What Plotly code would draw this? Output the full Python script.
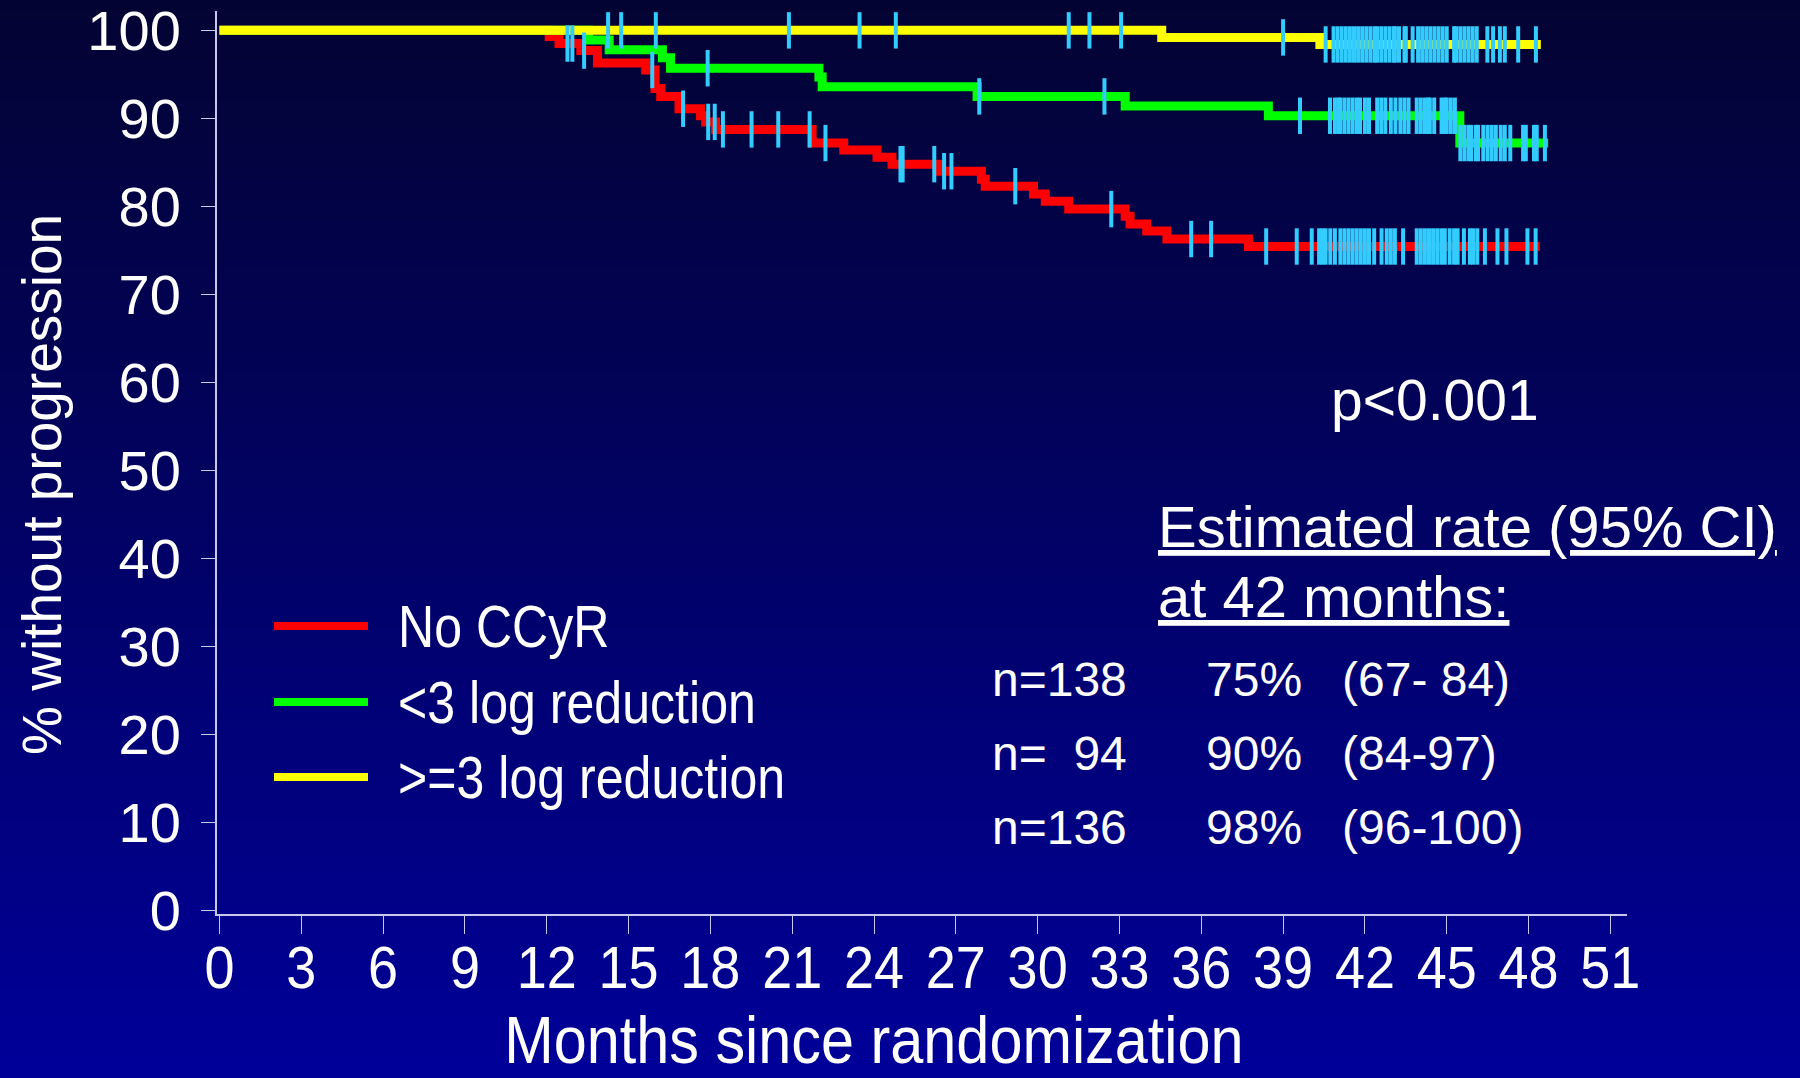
import plotly.graph_objects as go

# ---------------- data ----------------
red_times = [0, 12.09, 12.45, 13.25, 13.86, 15.63, 15.97, 16.18, 16.85, 17.64, 17.83, 18.19,
             21.73, 22.89, 24.11, 24.66, 26.37, 27.94, 28.08, 29.85, 30.28, 31.14, 33.21,
             33.39, 34.0, 34.74, 37.73]
red_surv = [100, 99.3, 98.5, 97.7, 96.3, 95.5, 93.4, 92.5, 91.1, 90.3, 89.6, 88.75,
            87.2, 86.4, 85.6, 84.8, 84.0, 83.1, 82.3, 81.4, 80.6, 79.7, 78.9,
            78.0, 77.2, 76.3, 75.45]
red_end = 48.41
red_censor = [12.76, 12.94, 13.37, 15.87, 17.0, 17.92, 18.16, 18.46, 19.51, 20.49, 21.64, 22.22,
              24.97, 25.05, 26.21, 26.57, 26.84, 29.18, 32.7, 35.63, 36.36, 38.38, 39.5, 40.05,
              40.32, 40.44, 40.56, 40.73, 40.9, 41.1, 41.25, 41.4, 41.55, 41.7, 41.85, 42.0,
              42.15, 42.34, 42.61, 42.8, 42.95, 43.1, 43.4, 43.9, 44.05, 44.2, 44.35, 44.5,
              44.65, 44.8, 44.93, 45.11, 45.27, 45.4, 45.63, 45.85, 45.97, 46.12, 46.4, 46.86,
              47.19, 47.96, 48.26]

green_times = [0, 13.53, 14.29, 16.24, 16.54, 21.98, 22.1, 27.78, 33.21, 38.46, 45.48]
green_surv = [100, 98.9, 97.8, 96.9, 95.7, 94.7, 93.6, 92.5, 91.4, 90.3, 87.2]
green_end = 48.72
green_censor = [17.9, 27.86, 32.45, 39.62, 40.72, 40.9, 41.03, 41.1, 41.25, 41.4, 41.55, 41.7,
                41.82, 42.0, 42.15, 42.45, 42.6, 42.75, 42.95, 43.12, 43.3, 43.45, 43.6, 43.9,
                44.05, 44.2, 44.32, 44.38, 44.54, 44.81, 44.93, 45.0, 45.15, 45.3, 45.5, 45.65,
                45.8, 45.9, 46.07, 46.15, 46.34, 46.5, 46.65, 46.8, 46.98, 47.13, 47.33, 47.8,
                47.9, 48.2, 48.3, 48.6]

yellow_times = [0, 34.55, 40.35]
yellow_surv = [100, 99.2, 98.4]
yellow_end = 48.45
yellow_censor = [14.25, 14.73, 16.0, 20.88, 23.47, 24.8, 31.14, 31.9, 33.06, 39.0, 40.56, 40.85,
                 41.0, 41.15, 41.3, 41.45, 41.6, 41.75, 41.9, 42.05, 42.2, 42.35, 42.45, 42.6,
                 42.75, 42.9, 43.05, 43.1, 43.25, 43.45, 43.5, 43.75, 43.95, 44.1, 44.25, 44.4,
                 44.55, 44.7, 44.85, 45.0, 45.27, 45.35, 45.5, 45.65, 45.8, 45.95, 46.1, 46.49,
                 46.7, 46.95, 47.13, 47.62, 48.27]

series_names = ["No CCyR", "<3 log reduction", ">=3 log reduction"]
series_colors = ["#FF0000", "#00FF00", "#FFFF00"]

x_ticks = list(range(0, 52, 3))
y_ticks = list(range(0, 101, 10))

table_n = ["n=138", "n=\u00a0\u00a094", "n=136"]
table_rate = ["75%", "90%", "98%"]
table_ci = ["(67-\u00a084)", "(84-97)", "(96-100)"]

# ---------------- layout helpers ----------------
W, H = 1800, 1078
PL, PR, PT, PB = 217, 1627, 11, 914   # plot area in pixels


def fx(p):
    return p / W


def fy(p):
    return 1 - p / H


def value_at(times, surv, t):
    v = surv[0]
    for tt, s in zip(times, surv):
        if tt <= t:
            v = s
    return v


FONT = "Liberation Sans, Arial, sans-serif"

fig = go.Figure()

curves = [(red_times, red_surv, red_end, red_censor),
          (green_times, green_surv, green_end, green_censor),
          (yellow_times, yellow_surv, yellow_end, yellow_censor)]

for (t, s, end, _), name, col in zip(curves, series_names, series_colors):
    fig.add_trace(go.Scatter(x=t + [end], y=s + [s[-1]], mode="lines", name=name,
                             line=dict(color=col, width=9, shape="hv"),
                             showlegend=False, hoverinfo="skip"))

for (t, s, end, cens), name in zip(curves, series_names):
    fig.add_trace(go.Scatter(x=cens, y=[value_at(t, s, c) for c in cens], mode="markers",
                             name=name + " censored", showlegend=False, hoverinfo="skip",
                             marker=dict(symbol="line-ns", size=26,
                                         line=dict(width=4, color="#33CCFF"))))

# ---------------- background gradient ----------------
shapes = []
n_bands = 108
for i in range(n_bands):
    f = i / (n_bands - 1)
    r = round(3 * (1 - f))
    b = round(0x33 + (0x99 - 0x33) * f)
    shapes.append(dict(type="rect", xref="paper", yref="paper", layer="below",
                       x0=0, x1=1, y0=1 - (i + 1) / n_bands - 0.001, y1=1 - i / n_bands,
                       line=dict(width=0), fillcolor=f"rgb({r},{r},{b})"))

# ---------------- manual legend ----------------
legend_y = [626, 702, 777]
annotations = []
legend_idx = []
for name, col, ly in zip(series_names, series_colors, legend_y):
    shapes.append(dict(type="line", xref="paper", yref="paper", x0=fx(274), x1=fx(368),
                       y0=fy(ly), y1=fy(ly), line=dict(color=col, width=8)))
    legend_idx.append(len(annotations))
    annotations.append(dict(text=name, xref="paper", yref="paper", x=fx(396), y=fy(ly),
                            xanchor="left", yanchor="middle", align="left", showarrow=False,
                            font=dict(family=FONT, size=60, color="white")))

# ---------------- text annotations ----------------
annotations.append(dict(text="p<0.001", xref="paper", yref="paper", x=fx(1329), y=fy(400),
                        xanchor="left", yanchor="middle", showarrow=False,
                        font=dict(family=FONT, size=57, color="white")))
annotations.append(dict(text="<u>Estimated rate (95% CI)</u>", xref="paper", yref="paper",
                        x=fx(1156), y=fy(526), xanchor="left", yanchor="middle", showarrow=False,
                        font=dict(family=FONT, size=58, color="white")))
annotations.append(dict(text="<u>at 42 months:</u>", xref="paper", yref="paper",
                        x=fx(1156), y=fy(596), xanchor="left", yanchor="middle", showarrow=False,
                        font=dict(family=FONT, size=58, color="white")))
row_y = [679, 753, 827]
for n, rate, ci, ry in zip(table_n, table_rate, table_ci, row_y):
    for txt, xx in ((n, 990), (rate, 1204), (ci, 1340)):
        annotations.append(dict(text=txt, xref="paper", yref="paper", x=fx(xx), y=fy(ry),
                                xanchor="left", yanchor="middle", showarrow=False,
                                font=dict(family=FONT, size=48, color="white")))

# axis titles
annotations.append(dict(text="% without progression", xref="paper", yref="paper",
                        x=fx(42), y=fy(485), xanchor="center", yanchor="middle",
                        textangle=-90, showarrow=False,
                        font=dict(family=FONT, size=55, color="white")))
xtitle_idx = len(annotations)
annotations.append(dict(text="Months since randomization", xref="paper", yref="paper",
                        x=fx(874), y=0, xanchor="center", yanchor="bottom", borderpad=0,
                        showarrow=False,
                        font=dict(family=FONT, size=66, color="white")))

axis_col = "#C8C8EC"
fig.update_layout(
    width=W, height=H,
    margin=dict(l=0, r=0, t=0, b=0, pad=0),
    paper_bgcolor="#000066",
    plot_bgcolor="rgba(0,0,0,0)",
    showlegend=False,
    shapes=shapes,
    annotations=annotations,
    xaxis=dict(domain=[fx(PL), fx(PR)], range=[-0.09, 51.61], tickvals=x_ticks,
               ticktext=[str(v) for v in x_ticks], automargin=False,
               ticklabeloverflow="allow",
               showgrid=False, zeroline=False, showline=True, linecolor=axis_col, linewidth=2,
               ticks="outside", ticklen=18, tickwidth=1, tickcolor=axis_col,
               ticklabelstandoff=-18,
               tickfont=dict(family=FONT, size=60, color="white")),
    yaxis=dict(domain=[fy(PB), fy(PT)], range=[-0.37, 102.2], tickvals=y_ticks,
               automargin=False, ticklabeloverflow="allow",
               showgrid=False, zeroline=False, showline=True, linecolor=axis_col, linewidth=2,
               ticks="outside", ticklen=14, tickwidth=1, tickcolor=axis_col,
               ticklabelstandoff=9,
               tickfont=dict(family=FONT, size=56, color="white")),
)

# horizontally condensed lettering of the original slide (x tick labels, x title, legend)
post = """
document.body.style.margin = '0';
var gd = document.getElementById('{plot_id}');
function squeeze(sel, s) {
  gd.querySelectorAll(sel).forEach(function (t) {
    var x = parseFloat(t.getAttribute('x')) || 0;
    var old = t.getAttribute('transform') || '';
    t.setAttribute('transform', old + ' translate(' + (x * (1 - s)) + ',0) scale(' + s + ',1)');
  });
}
squeeze('g.xtick text', 0.9);
LEGEND_IDX.forEach(function (i) {
  squeeze('g.annotation[data-index="' + i + '"] text.annotation-text', 0.835);
});
squeeze('g.annotation[data-index="XTITLE_IDX"] text.annotation-text', 0.9);
""".replace("LEGEND_IDX", str(legend_idx)).replace("XTITLE_IDX", str(xtitle_idx))

fig.write_html("out.html", config={"displayModeBar": False}, post_script=post)
